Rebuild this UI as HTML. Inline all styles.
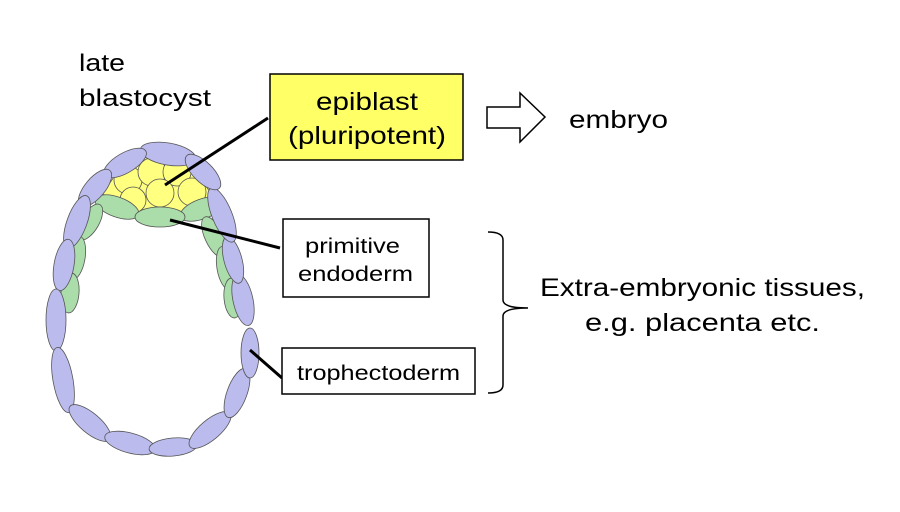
<!DOCTYPE html>
<html><head><style>
body{margin:0;width:900px;height:507px;background:#fff;overflow:hidden;font-family:"Liberation Sans",Arial,sans-serif}
</style></head><body>
<svg width="900" height="507" xmlns="http://www.w3.org/2000/svg" font-family="Liberation Sans, Arial, sans-serif">
<g stroke="#555" stroke-width="0.8">
<polygon points="103,193 120,168 150,153 190,161 215,200 183,214 140,212 105,205" fill="#ffff80"/>
<g fill="#ffff80" stroke="#555">
<circle cx="128" cy="180" r="14"/><circle cx="152" cy="172" r="14"/><circle cx="177" cy="172" r="14"/>
<circle cx="192" cy="192" r="14"/><circle cx="133" cy="200" r="13"/><circle cx="160" cy="193" r="14"/>
</g>
<g fill="#aaddaa">
<ellipse cx="117" cy="207" rx="23" ry="10" transform="rotate(20 117 207)"/>
<ellipse cx="202" cy="209" rx="23" ry="10" transform="rotate(-20 202 209)"/>
<ellipse cx="160" cy="217" rx="25" ry="10"/>
<ellipse cx="90" cy="222" rx="20" ry="9" transform="rotate(-60 90 222)"/>
<ellipse cx="76" cy="258" rx="22" ry="9" transform="rotate(-80 76 258)"/>
<ellipse cx="70" cy="293" rx="20" ry="9" transform="rotate(-85 70 293)"/>
<ellipse cx="214" cy="237" rx="22" ry="9" transform="rotate(65 214 237)"/>
<ellipse cx="226" cy="268" rx="22" ry="9" transform="rotate(80 226 268)"/>
<ellipse cx="233" cy="298" rx="20" ry="9" transform="rotate(85 233 298)"/>
</g>
<g fill="#bbbbee">
<ellipse cx="168" cy="154" rx="28" ry="11" transform="rotate(10 168 154)"/>
<ellipse cx="125" cy="163" rx="24" ry="10" transform="rotate(-30 125 163)"/>
<ellipse cx="95" cy="188" rx="23" ry="10" transform="rotate(-50 95 188)"/>
<ellipse cx="77" cy="222" rx="28" ry="10" transform="rotate(-70 77 222)"/>
<ellipse cx="64" cy="265" rx="26" ry="10" transform="rotate(-80 64 265)"/>
<ellipse cx="56" cy="320" rx="31" ry="10" transform="rotate(90 56 320)"/>
<ellipse cx="63" cy="380" rx="33" ry="10" transform="rotate(80 63 380)"/>
<ellipse cx="90" cy="423" rx="26" ry="10" transform="rotate(40 90 423)"/>
<ellipse cx="130" cy="443" rx="26" ry="10" transform="rotate(15 130 443)"/>
<ellipse cx="173" cy="447" rx="24" ry="9" transform="rotate(-5 173 447)"/>
<ellipse cx="210" cy="430" rx="26" ry="10" transform="rotate(-40 210 430)"/>
<ellipse cx="237" cy="393" rx="26" ry="10" transform="rotate(-70 237 393)"/>
<ellipse cx="250" cy="353" rx="25" ry="9" transform="rotate(90 250 353)"/>
<ellipse cx="243" cy="300" rx="26" ry="10" transform="rotate(78 243 300)"/>
<ellipse cx="233" cy="260" rx="24" ry="9" transform="rotate(75 233 260)"/>
<ellipse cx="222" cy="215" rx="29" ry="10" transform="rotate(68 222 215)"/>
<ellipse cx="203" cy="172" rx="23" ry="10" transform="rotate(45 203 172)"/>
</g>
</g>
<g stroke="#000" stroke-width="3">
<line x1="165" y1="185" x2="268" y2="118"/>
<line x1="170" y1="220" x2="280" y2="248"/>
<line x1="250" y1="350" x2="282" y2="378"/>
</g>
<rect x="270" y="74" width="193" height="86" fill="#ffff66" stroke="#000" stroke-width="1.5"/>
<rect x="283" y="219" width="146" height="78" fill="#fff" stroke="#000" stroke-width="1.5"/>
<rect x="282" y="348" width="193" height="46" fill="#fff" stroke="#000" stroke-width="1.5"/>
<polygon points="487,107 520,107 520,93 545,117 520,142 520,128 487,128" fill="#fff" stroke="#000" stroke-width="1.5"/>
<path d="M488,232 Q503,232 503,240 L503,300 Q503,308 528,308 Q503,308 503,316 L503,385 Q503,393 488,393" fill="none" stroke="#000" stroke-width="1.5"/>
<g fill="#000">
<text x="79" y="71" font-size="24" textLength="46" lengthAdjust="spacingAndGlyphs">late</text>
<text x="79" y="106" font-size="24" textLength="132" lengthAdjust="spacingAndGlyphs">blastocyst</text>
<text x="316" y="110" font-size="25" textLength="102" lengthAdjust="spacingAndGlyphs">epiblast</text>
<text x="288" y="144" font-size="25" textLength="158" lengthAdjust="spacingAndGlyphs">(pluripotent)</text>
<text x="569" y="128" font-size="25" textLength="99" lengthAdjust="spacingAndGlyphs">embryo</text>
<text x="305" y="253" font-size="21" textLength="95" lengthAdjust="spacingAndGlyphs">primitive</text>
<text x="298" y="281" font-size="21" textLength="115" lengthAdjust="spacingAndGlyphs">endoderm</text>
<text x="297" y="380" font-size="21" textLength="163" lengthAdjust="spacingAndGlyphs">trophectoderm</text>
<text x="540" y="296" font-size="25" textLength="325" lengthAdjust="spacingAndGlyphs">Extra-embryonic tissues,</text>
<text x="585" y="331" font-size="25" textLength="235" lengthAdjust="spacingAndGlyphs">e.g. placenta etc.</text>
</g>
</svg>
</body></html>
